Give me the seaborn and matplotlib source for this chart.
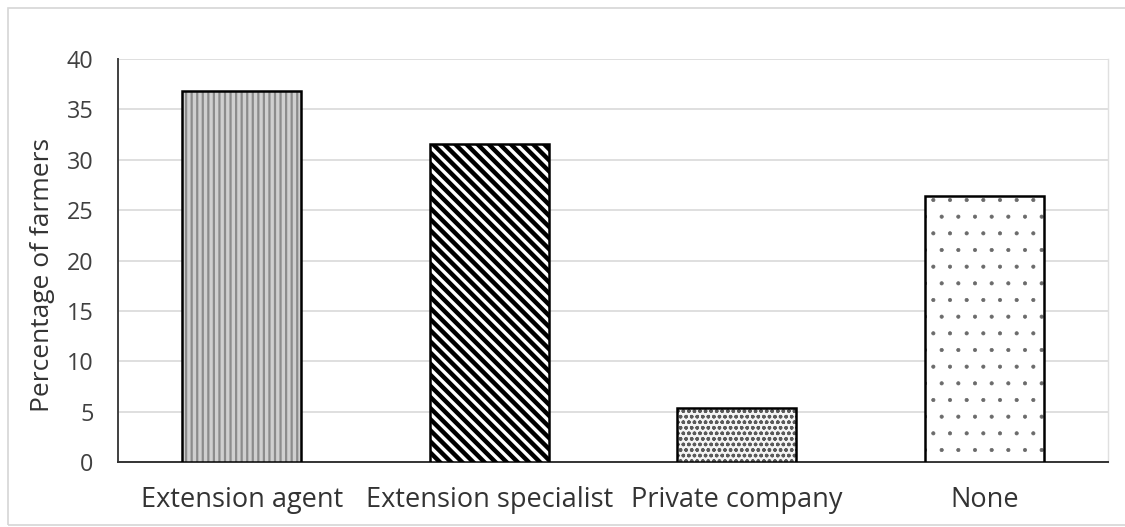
import matplotlib
matplotlib.use("Agg")
import matplotlib.pyplot as plt
import seaborn as sns
import pandas as pd
from matplotlib.patches import Rectangle

categories = ["Extension agent", "Extension specialist", "Private company", "None"]
values = [36.8, 31.6, 5.4, 26.4]
yticks = [0, 5, 10, 15, 20, 25, 30, 35, 40]

sns.set_theme(style="white")
plt.rcParams['font.family'] = ['Open Sans', 'DejaVu Sans']

df = pd.DataFrame({"cat": categories, "val": values})
fig = plt.figure(figsize=(11.25, 5.27), dpi=100)
ax = fig.add_axes([118/1125, 1 - 462/527, (1108 - 118)/1125, (462 - 59)/527])

sns.barplot(data=df, x="cat", y="val", ax=ax, width=0.48, color="white",
            linewidth=0, zorder=3)

styles = [
    dict(facecolor="#d0d0d0", hatch="|||", hc="#8c8c8c", hlw=1.6),
    dict(facecolor="white", hatch="\\\\\\", hc="black", hlw=3.2),
    dict(facecolor="#f4f4f4", hatch="ooo", hc="#5a5a5a", hlw=1.0),
    dict(facecolor="white", hatch=".", hc="#6a6a6a", hlw=0.5),
]
for p, s in list(zip(ax.patches, styles)):
    p.set_facecolor(s["facecolor"])
    p.set_hatch(s["hatch"])
    p.set_edgecolor(s["hc"])
    p.set_linewidth(0)
    p.set_hatch_linewidth(s["hlw"])
    ax.add_patch(Rectangle(p.get_xy(), p.get_width(), p.get_height(),
                           fill=False, edgecolor="black", linewidth=1.8, zorder=4))

ax.set_ylim(0, 40)
ax.set_xlim(-0.5, 3.5)
ax.set_yticks(yticks)
ax.yaxis.grid(True, color="#d9d9d9", linewidth=1.2, zorder=0)
ax.set_axisbelow(True)
ax.set_xlabel("")
ax.set_ylabel("Percentage of farmers", fontsize=19, color="#333333")
ax.yaxis.set_label_coords(-0.064, 0.464)
ax.tick_params(axis="y", length=0, labelsize=16.8, labelcolor="#404040", pad=17.5)
ax.tick_params(axis="x", which="major", length=0, labelsize=19.5, labelcolor="#333333", pad=17)

ax.set_xticks([0, 1, 2, 3], minor=False)
ax.set_xticks([-0.5, 0.5, 1.5, 2.5, 3.5], minor=True)
ax.tick_params(axis="x", which="minor", length=18, width=1.4, color="#333333", direction="inout")

ax.spines["top"].set_visible(False)
ax.spines["right"].set_color("#e0e0e0")
ax.spines["right"].set_linewidth(1.0)
ax.spines["left"].set_color("#404040")
ax.spines["left"].set_linewidth(1.4)
ax.spines["bottom"].set_color("#333333")
ax.spines["bottom"].set_linewidth(1.4)

fig.patches.append(Rectangle((8/1125, 2/527), 1.0, 517/527, transform=fig.transFigure,
                             fill=False, edgecolor="#d6d6d6", linewidth=1.2))

fig.savefig("out.png", dpi=100)
